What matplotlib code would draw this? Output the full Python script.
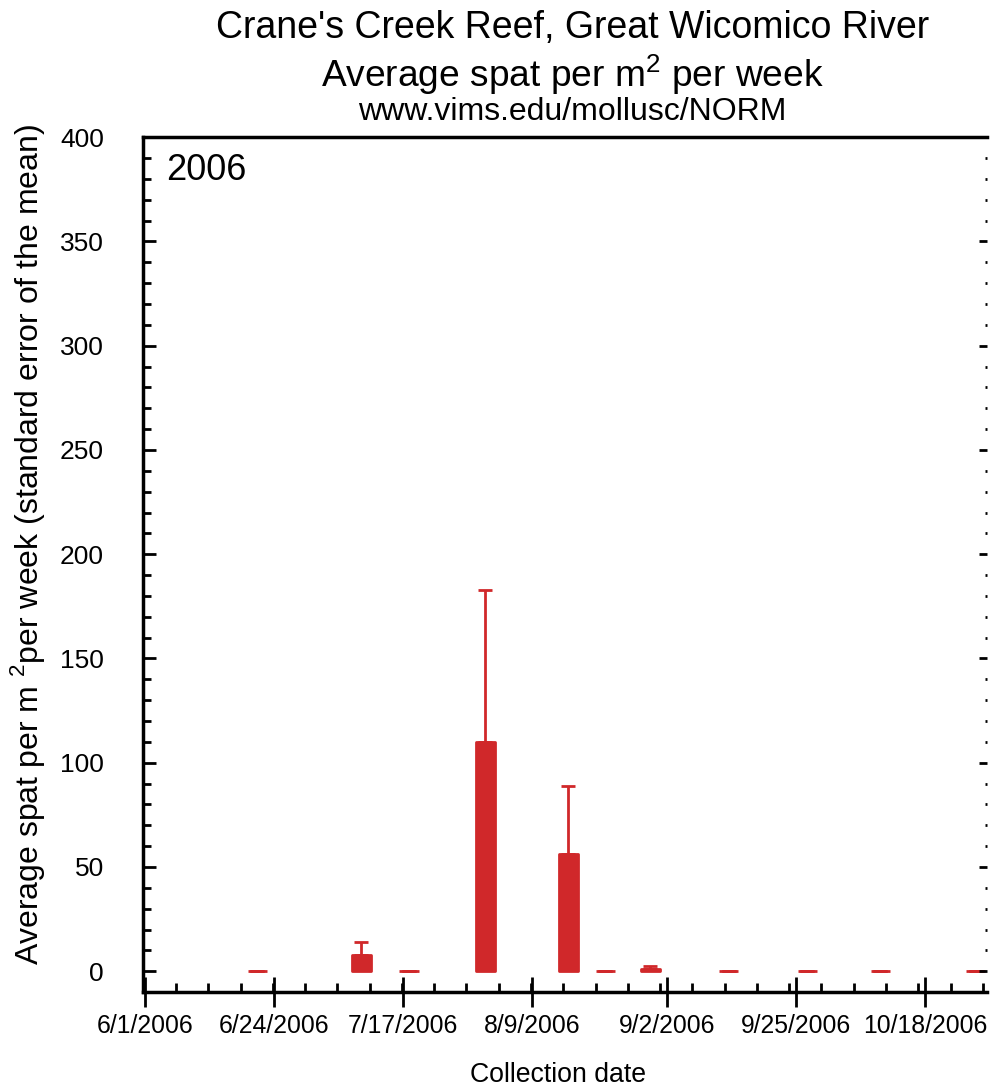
import datetime as dt
import matplotlib
matplotlib.use("Agg")
from matplotlib import pyplot as plt
import matplotlib.dates as mdates
from matplotlib.ticker import FixedLocator, FuncFormatter, MultipleLocator

plt.rcParams['font.family'] = ['Liberation Sans', 'DejaVu Sans']
plt.rcParams['mathtext.fontset'] = 'custom'
plt.rcParams['mathtext.rm'] = 'Liberation Sans'

# collection dates and average spat per m2 per week (with standard error)
dates = ["2006-06-21 00:00", "2006-07-09 12:00", "2006-07-18 00:00",
         "2006-07-31 14:00", "2006-08-15 10:00", "2006-08-22 00:00",
         "2006-08-30 00:00", "2006-09-13 00:00", "2006-09-27 00:00",
         "2006-10-10 00:00", "2006-10-27 00:00"]
spat = [0, 8, 0, 110, 56, 0, 1.3, 0, 0, 0, 0]
stderr = [0, 6, 0, 73, 33, 0, 1.3, 0, 0, 0, 0]
tick_dates = ["2006-06-01", "2006-06-24", "2006-07-17", "2006-08-09",
              "2006-09-02", "2006-09-25", "2006-10-18"]

red = "#d0282a"


def date_label(x, pos):
    d = mdates.num2date(x)
    return "%d/%d/%d" % (d.month, d.day, d.year)


def main():
    fig = plt.figure(figsize=(9.9, 10.89), dpi=100)
    ax = fig.add_axes([0.1444, 0.089, 0.8526, 0.785])

    x = mdates.date2num([dt.datetime.strptime(d, "%Y-%m-%d %H:%M") for d in dates])
    ax.bar(x, spat, width=3.4, color=red, edgecolor=red, linewidth=2,
           joinstyle='round', zorder=3)
    ax.errorbar(x, spat, yerr=[[0] * len(spat), stderr], fmt='none',
                ecolor=red, elinewidth=2, capsize=5, capthick=2, zorder=3)

    start = mdates.date2num(dt.datetime(2006, 6, 1))
    ax.set_xlim(start - 0.4, start + 150)
    ax.set_ylim(-10, 400)

    ticks = mdates.date2num([dt.datetime.strptime(d, "%Y-%m-%d") for d in tick_dates])
    ax.xaxis.set_major_locator(FixedLocator(ticks))
    ax.xaxis.set_minor_locator(MultipleLocator(5.75))
    ax.xaxis.set_major_formatter(FuncFormatter(date_label))
    ax.yaxis.set_major_locator(MultipleLocator(50))
    ax.yaxis.set_minor_locator(MultipleLocator(10))

    for s in ['left', 'bottom', 'top']:
        ax.spines[s].set_linewidth(2.5)
    ax.spines['right'].set_visible(False)

    ax.tick_params(axis='y', which='major', direction='in', length=9.5,
                   width=2, labelsize=19, pad=28)
    ax.tick_params(axis='y', which='minor', direction='in', length=5.8, width=2)
    ax.tick_params(axis='x', which='major', direction='inout', length=21,
                   width=2, labelsize=17.8, pad=5)
    ax.tick_params(axis='x', which='minor', direction='in', length=6.5, width=2)

    # right side: short ticks only
    ax2 = ax.twinx()
    ax2.set_ylim(ax.get_ylim())
    ax2.yaxis.set_major_locator(MultipleLocator(50))
    ax2.yaxis.set_minor_locator(MultipleLocator(10))
    for s in ax2.spines.values():
        s.set_visible(False)
    ax2.tick_params(axis='y', which='major', direction='in', length=6, width=2,
                    labelright=False)
    ax2.tick_params(axis='y', which='minor', direction='in', length=1.5, width=2)

    ax.text(0.028, 0.982, "2006", transform=ax.transAxes, fontsize=26,
            va='top', ha='left')

    fig.text(0.578, 0.974, "Crane's Creek Reef, Great Wicomico River",
             ha='center', va='center', fontsize=27)
    fig.text(0.578, 0.932, r"Average spat per m$^\mathregular{2}$ per week",
             ha='center', va='center', fontsize=26.7)
    fig.text(0.578, 0.897, "www.vims.edu/mollusc/NORM",
             ha='center', va='center', fontsize=23)
    fig.text(0.028, 0.5,
             r"Average spat per m $^\mathregular{2}$per week (standard error of the mean)",
             rotation=90, ha='center', va='center', fontsize=23)
    fig.text(0.564, 0.013, "Collection date", ha='center', va='center',
             fontsize=19.2)

    fig.savefig("out.png", dpi=100)


if __name__ == "__main__":
    main()
